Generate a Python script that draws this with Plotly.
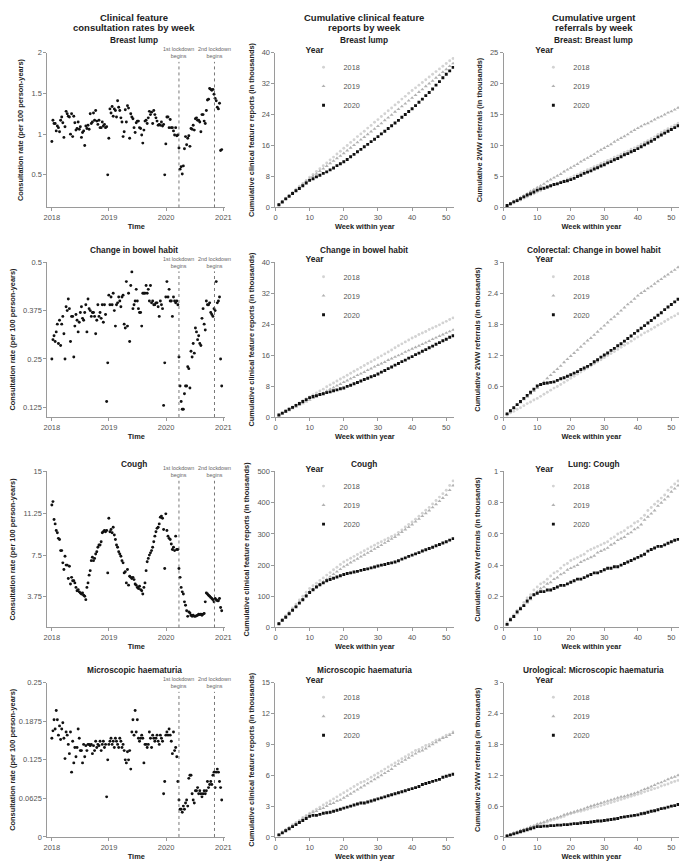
import plotly.graph_objects as go
import pandas as pd

# ---------------- DATA ----------------
# Column 1: weekly consultation rates (per 100 person-years), 2018-2020, 52 weeks per year
breast_rate_2018 = [0.91, 1.17, 1.13, 1.13, 1.04, 1.10, 1.08, 1.03, 1.17, 1.21,
                    1.14, 0.96, 1.09, 1.28, 1.25, 1.22, 1.21, 1.00, 1.25, 0.97,
                    1.22, 1.14, 1.05, 1.07, 1.15, 1.06, 1.09, 0.96, 1.02, 1.04,
                    0.86, 1.10, 1.07, 1.11, 1.06, 1.25, 1.13, 1.15, 1.26, 1.17,
                    1.29, 1.16, 1.12, 1.17, 1.08, 1.08, 1.15, 1.10, 1.12, 1.08,
                    1.09, 0.50]
breast_rate_2019 = [0.95, 1.31, 1.26, 1.34, 1.22, 1.31, 1.29, 1.21, 1.41, 1.33,
                    1.29, 1.20, 1.15, 0.97, 1.03, 1.30, 1.15, 1.35, 1.32, 0.95,
                    1.25, 1.21, 1.19, 1.08, 1.02, 1.14, 1.16, 1.16, 1.08, 1.07,
                    0.99, 0.89, 1.05, 1.16, 1.17, 1.13, 1.20, 1.28, 1.24, 1.27,
                    1.13, 1.29, 1.24, 1.20, 1.16, 1.11, 1.12, 1.11, 1.15, 1.10,
                    1.12, 0.50]
breast_rate_2020 = [0.88, 1.21, 1.21, 1.08, 1.18, 1.08, 1.08, 1.04, 0.99, 1.08,
                    0.98, 0.99, 0.83, 0.57, 0.60, 0.51, 0.61, 0.82, 0.97, 0.87,
                    0.95, 0.98, 0.85, 1.07, 1.06, 1.11, 1.05, 1.19, 1.20, 1.17,
                    1.17, 1.15, 1.03, 1.24, 1.24, 1.16, 1.13, 1.29, 1.42, 1.43,
                    1.56, 1.55, 1.54, 1.55, 1.49, 1.44, 1.41, 1.33, 1.31, 1.38,
                    0.80, 0.81]

bowel_rate_2018 = [0.25, 0.30, 0.31, 0.295, 0.32, 0.34, 0.29, 0.35, 0.285, 0.34,
                   0.36, 0.315, 0.25, 0.385, 0.375, 0.405, 0.38, 0.295, 0.36, 0.36,
                   0.255, 0.335, 0.365, 0.35, 0.32, 0.345, 0.37, 0.385, 0.355, 0.35,
                   0.37, 0.39, 0.32, 0.405, 0.38, 0.375, 0.36, 0.37, 0.37, 0.36,
                   0.315, 0.35, 0.39, 0.36, 0.37, 0.355, 0.39, 0.345, 0.39, 0.365,
                   0.14, 0.24]
bowel_rate_2019 = [0.415, 0.39, 0.41, 0.39, 0.42, 0.375, 0.335, 0.39, 0.395, 0.41,
                   0.40, 0.385, 0.41, 0.415, 0.34, 0.33, 0.45, 0.335, 0.42, 0.295,
                   0.44, 0.475, 0.38, 0.39, 0.40, 0.43, 0.40, 0.38, 0.37, 0.37,
                   0.335, 0.42, 0.42, 0.42, 0.44, 0.42, 0.43, 0.40, 0.44, 0.395,
                   0.40, 0.39, 0.39, 0.395, 0.395, 0.385, 0.36, 0.40, 0.39, 0.38,
                   0.13, 0.24]
bowel_rate_2020 = [0.41, 0.45, 0.41, 0.43, 0.40, 0.40, 0.36, 0.41, 0.40, 0.395,
                   0.40, 0.39, 0.255, 0.18, 0.14, 0.12, 0.12, 0.16, 0.18, 0.18,
                   0.23, 0.225, 0.175, 0.27, 0.255, 0.29, 0.265, 0.33, 0.32, 0.30,
                   0.31, 0.29, 0.285, 0.355, 0.38, 0.34, 0.325, 0.40, 0.39, 0.39,
                   0.395, 0.37, 0.365, 0.36, 0.38, 0.375, 0.45, 0.395, 0.40, 0.41,
                   0.25, 0.18]

cough_rate_2018 = [12.0, 12.3, 10.7, 10.3, 9.7, 9.5, 9.0, 8.9, 7.9, 7.9,
                   6.8, 6.2, 7.4, 6.6, 6.6, 5.4, 6.5, 4.9, 5.5, 5.2,
                   5.2, 5.0, 4.6, 4.3, 4.4, 4.2, 4.1, 4.0, 4.1, 3.9,
                   3.8, 3.5, 4.6, 5.0, 5.7, 6.1, 7.0, 7.3, 7.0, 7.2,
                   7.6, 7.8, 8.2, 8.4, 8.4, 8.7, 9.5, 9.6, 9.7, 9.6,
                   9.7, 5.9]
cough_rate_2019 = [10.8, 9.6, 9.8, 9.5, 10.0, 9.3, 8.9, 8.4, 8.2, 7.8,
                   7.6, 7.4, 7.0, 6.8, 5.9, 6.0, 5.0, 6.2, 4.8, 5.6,
                   5.5, 5.4, 5.5, 5.3, 4.9, 4.8, 4.6, 4.5, 4.7, 4.4,
                   4.3, 4.0, 4.6, 5.0, 6.1, 6.9, 7.2, 7.5, 7.7, 7.9,
                   8.2, 8.7, 9.2, 9.6, 9.9, 10.0, 10.3, 10.9, 11.0, 10.8,
                   9.8, 6.3]
cough_rate_2020 = [11.2, 9.7, 9.2, 9.0, 8.9, 8.5, 8.0, 8.2, 7.9, 9.2,
                   8.0, 8.0, 6.3, 5.5, 4.6, 4.2, 4.0, 3.3, 3.0, 2.5,
                   2.0, 2.4, 2.3, 2.1, 2.0, 2.1, 2.0, 2.0, 2.05, 2.1,
                   2.2, 2.15, 2.2, 2.1, 2.2, 2.25, 3.3, 4.1, 4.0, 3.9,
                   3.8, 3.7, 3.6, 3.5, 3.3, 3.6, 3.5, 3.4, 3.4, 3.6,
                   2.8, 2.5]

haem_rate_2018 = [0.16, 0.172, 0.19, 0.175, 0.205, 0.19, 0.165, 0.18, 0.158, 0.175,
                  0.185, 0.16, 0.127, 0.17, 0.165, 0.15, 0.135, 0.17, 0.105, 0.155,
                  0.12, 0.145, 0.13, 0.145, 0.175, 0.16, 0.14, 0.14, 0.12, 0.15,
                  0.13, 0.148, 0.14, 0.15, 0.15, 0.148, 0.15, 0.135, 0.148, 0.14,
                  0.155, 0.145, 0.15, 0.148, 0.155, 0.14, 0.15, 0.155, 0.145, 0.15,
                  0.065, 0.125]
haem_rate_2019 = [0.15, 0.155, 0.16, 0.15, 0.155, 0.145, 0.16, 0.155, 0.15, 0.145,
                  0.16, 0.155, 0.145, 0.15, 0.14, 0.125, 0.12, 0.138, 0.125, 0.14,
                  0.11, 0.17, 0.19, 0.165, 0.205, 0.17, 0.19, 0.16, 0.155, 0.16,
                  0.165, 0.16, 0.12, 0.15, 0.15, 0.145, 0.15, 0.17, 0.16, 0.145,
                  0.165, 0.16, 0.155, 0.16, 0.165, 0.155, 0.15, 0.165, 0.16, 0.155,
                  0.07, 0.09]
haem_rate_2020 = [0.165, 0.17, 0.165, 0.175, 0.165, 0.155, 0.135, 0.17, 0.14, 0.145,
                  0.13, 0.09, 0.06, 0.045, 0.045, 0.04, 0.05, 0.045, 0.055, 0.06,
                  0.05, 0.095, 0.1, 0.1, 0.07, 0.06, 0.055, 0.075, 0.075, 0.08,
                  0.07, 0.075, 0.07, 0.065, 0.07, 0.075, 0.07, 0.075, 0.09, 0.08,
                  0.085, 0.09, 0.085, 0.1, 0.105, 0.08, 0.105, 0.11, 0.105, 0.09,
                  0.08, 0.06]

# Column 2: cumulative clinical feature reports (thousands), weeks 1-52
breast_rep = {
    "2018": [0.8, 1.6, 2.4, 3.1, 3.9, 4.7, 5.5, 6.2, 7.0, 7.8,
             8.5, 9.3, 10.0, 10.8, 11.5, 12.3, 13.0, 13.8, 14.5, 15.3,
             16.0, 16.8, 17.5, 18.3, 19.0, 19.7, 20.5, 21.2, 22.0, 22.7,
             23.5, 24.2, 25.0, 25.7, 26.5, 27.2, 28.0, 28.7, 29.5, 30.2,
             30.9, 31.6, 32.3, 33.0, 33.7, 34.4, 35.1, 35.8, 36.5, 37.2, 37.9, 38.5],
    "2019": [0.7, 1.4, 2.2, 2.9, 3.7, 4.4, 5.2, 5.9, 6.7, 7.4,
             8.1, 8.7, 9.4, 10.0, 10.7, 11.4, 12.0, 12.7, 13.3, 14.0,
             14.7, 15.4, 16.1, 16.8, 17.5, 18.2, 18.9, 19.6, 20.3, 21.0,
             21.7, 22.5, 23.2, 23.9, 24.7, 25.4, 26.1, 26.8, 27.6, 28.3,
             29.0, 29.8, 30.5, 31.3, 32.0, 32.7, 33.5, 34.2, 35.0, 35.7, 36.5, 37.2],
    "2020": [0.7, 1.4, 2.2, 2.9, 3.6, 4.3, 4.9, 5.6, 6.3, 7.0,
             7.4, 7.9, 8.3, 8.8, 9.2, 9.7, 10.2, 10.8, 11.3, 11.8,
             12.4, 13.1, 13.7, 14.4, 15.0, 15.7, 16.3, 17.0, 17.6, 18.3,
             19.0, 19.7, 20.4, 21.1, 21.8, 22.5, 23.3, 24.0, 24.8, 25.5,
             26.3, 27.2, 28.0, 28.9, 29.7, 30.6, 31.6, 32.5, 33.5, 34.4, 35.3, 36.2],
}
bowel_rep = {
    "2018": [0.5, 1.0, 1.6, 2.1, 2.6, 3.1, 3.6, 4.2, 4.7, 5.2,
             5.7, 6.2, 6.7, 7.2, 7.8, 8.3, 8.8, 9.3, 9.8, 10.3,
             10.8, 11.3, 11.8, 12.3, 12.8, 13.3, 13.8, 14.3, 14.8, 15.3,
             15.8, 16.3, 16.8, 17.3, 17.9, 18.4, 18.9, 19.4, 19.9, 20.4,
             20.8, 21.3, 21.7, 22.1, 22.6, 23.0, 23.4, 23.8, 24.3, 24.7, 25.2, 25.6],
    "2019": [0.4, 0.8, 1.3, 1.7, 2.2, 2.6, 3.1, 3.5, 4.0, 4.4,
             4.9, 5.3, 5.8, 6.2, 6.7, 7.2, 7.6, 8.1, 8.5, 9.0,
             9.4, 9.9, 10.3, 10.8, 11.2, 11.6, 12.1, 12.5, 13.0, 13.4,
             13.8, 14.2, 14.7, 15.1, 15.5, 15.9, 16.3, 16.8, 17.2, 17.6,
             18.0, 18.4, 18.8, 19.2, 19.6, 20.1, 20.5, 20.9, 21.3, 21.7, 22.1, 22.5],
    "2020": [0.5, 1.0, 1.5, 2.0, 2.5, 3.0, 3.5, 4.0, 4.5, 5.0,
             5.3, 5.5, 5.8, 6.0, 6.3, 6.5, 6.8, 7.0, 7.3, 7.5,
             7.9, 8.2, 8.6, 8.9, 9.3, 9.7, 10.0, 10.4, 10.7, 11.1,
             11.6, 12.0, 12.5, 12.9, 13.4, 13.8, 14.3, 14.7, 15.2, 15.6,
             16.1, 16.5, 17.0, 17.4, 17.9, 18.3, 18.8, 19.2, 19.7, 20.1, 20.6, 21.0],
}
cough_rep = {
    "2018": [13, 25, 38, 50, 63, 75, 88, 100, 113, 125,
             134, 142, 151, 159, 168, 176, 185, 193, 202, 210,
             216, 222, 228, 234, 240, 246, 252, 258, 264, 270,
             275, 281, 286, 292, 297, 305, 313, 322, 330, 338,
             347, 357, 366, 376, 385, 396, 407, 418, 429, 440, 455, 470],
    "2019": [12, 23, 35, 46, 58, 69, 81, 92, 104, 115,
             123, 131, 139, 147, 155, 163, 171, 179, 187, 195,
             201, 208, 214, 220, 227, 233, 239, 245, 252, 258,
             264, 271, 277, 284, 290, 298, 306, 314, 322, 330,
             339, 348, 357, 366, 375, 385, 395, 405, 415, 425, 440, 455],
    "2020": [12, 23, 33, 44, 55, 66, 78, 89, 101, 112,
             121, 130, 137, 143, 150, 154, 158, 162, 166, 170,
             173, 175, 178, 180, 183, 186, 188, 191, 194, 197,
             200, 202, 205, 207, 210, 214, 219, 223, 228, 232,
             236, 240, 245, 249, 253, 257, 262, 266, 271, 275, 280, 285],
}
haem_rep = {
    "2018": [0.25, 0.5, 0.7, 0.9, 1.2, 1.4, 1.6, 1.9, 2.1, 2.3,
             2.5, 2.7, 2.9, 3.1, 3.3, 3.5, 3.7, 3.9, 4.1, 4.3,
             4.5, 4.7, 4.9, 5.1, 5.3, 5.4, 5.6, 5.8, 6.0, 6.2,
             6.4, 6.6, 6.8, 7.0, 7.2, 7.4, 7.6, 7.8, 8.0, 8.2,
             8.4, 8.5, 8.7, 8.9, 9.0, 9.2, 9.4, 9.5, 9.7, 9.9, 10.0, 10.2],
    "2019": [0.2, 0.4, 0.7, 0.9, 1.1, 1.3, 1.5, 1.8, 2.0, 2.2,
             2.4, 2.5, 2.7, 2.8, 3.0, 3.2, 3.3, 3.5, 3.6, 3.8,
             4.0, 4.2, 4.4, 4.6, 4.8, 5.0, 5.2, 5.4, 5.6, 5.8,
             6.0, 6.2, 6.4, 6.6, 6.9, 7.1, 7.3, 7.5, 7.7, 7.9,
             8.1, 8.3, 8.4, 8.6, 8.8, 9.0, 9.2, 9.4, 9.6, 9.7, 9.9, 10.1],
    "2020": [0.2, 0.4, 0.6, 0.8, 1.0, 1.2, 1.4, 1.6, 1.8, 2.0,
             2.1, 2.1, 2.2, 2.3, 2.35, 2.4, 2.5, 2.6, 2.7, 2.8,
             2.9, 3.0, 3.1, 3.2, 3.3, 3.3, 3.4, 3.5, 3.6, 3.7,
             3.8, 3.9, 4.0, 4.1, 4.2, 4.3, 4.4, 4.5, 4.6, 4.7,
             4.8, 4.9, 5.1, 5.2, 5.3, 5.4, 5.5, 5.6, 5.8, 5.9, 6.0, 6.1],
}

# Column 3: cumulative urgent (2WW) referrals (thousands), weeks 1-52
breast_ref = {
    "2018": [0.2, 0.5, 0.7, 1.0, 1.2, 1.5, 1.7, 2.0, 2.2, 2.5,
             2.7, 3.0, 3.2, 3.4, 3.7, 3.9, 4.1, 4.3, 4.6, 4.8,
             5.1, 5.3, 5.6, 5.8, 6.1, 6.3, 6.6, 6.8, 7.1, 7.3,
             7.6, 7.8, 8.1, 8.3, 8.6, 8.9, 9.1, 9.4, 9.6, 9.9,
             10.2, 10.5, 10.8, 11.1, 11.4, 11.8, 12.1, 12.4, 12.7, 13.0, 13.3, 13.6],
    "2019": [0.3, 0.6, 1.0, 1.3, 1.6, 1.9, 2.2, 2.6, 2.9, 3.2,
             3.5, 3.8, 4.2, 4.5, 4.8, 5.1, 5.4, 5.8, 6.1, 6.4,
             6.7, 7.0, 7.4, 7.7, 8.0, 8.3, 8.6, 9.0, 9.3, 9.6,
             9.9, 10.2, 10.6, 10.9, 11.2, 11.5, 11.8, 12.2, 12.5, 12.8,
             13.1, 13.4, 13.6, 13.9, 14.2, 14.5, 14.7, 15.0, 15.3, 15.5, 15.8, 16.1],
    "2020": [0.3, 0.6, 0.9, 1.1, 1.4, 1.7, 2.0, 2.2, 2.5, 2.8,
             3.0, 3.1, 3.3, 3.5, 3.7, 3.8, 4.0, 4.2, 4.3, 4.5,
             4.7, 5.0, 5.2, 5.5, 5.7, 5.9, 6.2, 6.4, 6.7, 6.9,
             7.2, 7.4, 7.7, 7.9, 8.2, 8.5, 8.7, 9.0, 9.2, 9.5,
             9.8, 10.1, 10.4, 10.7, 11.0, 11.4, 11.7, 12.0, 12.3, 12.6, 12.9, 13.2],
}
bowel_ref = {
    "2018": [0.04, 0.08, 0.11, 0.15, 0.18, 0.22, 0.26, 0.29, 0.33, 0.36,
             0.40, 0.44, 0.48, 0.52, 0.56, 0.59, 0.63, 0.67, 0.71, 0.75,
             0.79, 0.83, 0.87, 0.91, 0.95, 0.99, 1.03, 1.07, 1.11, 1.15,
             1.19, 1.23, 1.27, 1.31, 1.35, 1.39, 1.43, 1.47, 1.51, 1.55,
             1.59, 1.63, 1.66, 1.70, 1.74, 1.78, 1.81, 1.85, 1.89, 1.93, 1.96, 2.00],
    "2019": [0.06, 0.11, 0.17, 0.23, 0.28, 0.34, 0.39, 0.45, 0.50, 0.56,
             0.62, 0.68, 0.75, 0.81, 0.87, 0.93, 0.99, 1.06, 1.12, 1.18,
             1.24, 1.30, 1.36, 1.42, 1.48, 1.53, 1.59, 1.65, 1.71, 1.77,
             1.83, 1.89, 1.94, 2.00, 2.06, 2.12, 2.18, 2.23, 2.29, 2.35,
             2.40, 2.44, 2.49, 2.53, 2.58, 2.63, 2.67, 2.72, 2.76, 2.81, 2.85, 2.90],
    "2020": [0.06, 0.12, 0.18, 0.24, 0.30, 0.36, 0.42, 0.48, 0.54, 0.60,
             0.63, 0.65, 0.66, 0.67, 0.68, 0.71, 0.74, 0.76, 0.79, 0.82,
             0.85, 0.88, 0.92, 0.95, 0.98, 1.02, 1.07, 1.11, 1.16, 1.20,
             1.24, 1.29, 1.33, 1.38, 1.42, 1.47, 1.52, 1.57, 1.62, 1.67,
             1.72, 1.77, 1.82, 1.87, 1.92, 1.97, 2.02, 2.08, 2.13, 2.18, 2.23, 2.28],
}
cough_ref = {
    "2018": [0.03, 0.06, 0.08, 0.11, 0.13, 0.16, 0.19, 0.21, 0.24, 0.26,
             0.28, 0.29, 0.31, 0.33, 0.35, 0.36, 0.38, 0.40, 0.41, 0.43,
             0.44, 0.45, 0.46, 0.47, 0.49, 0.50, 0.51, 0.52, 0.53, 0.54,
             0.55, 0.57, 0.58, 0.60, 0.61, 0.62, 0.64, 0.65, 0.67, 0.68,
             0.70, 0.72, 0.75, 0.77, 0.79, 0.81, 0.83, 0.85, 0.88, 0.90, 0.92, 0.94],
    "2019": [0.02, 0.05, 0.07, 0.09, 0.12, 0.14, 0.16, 0.18, 0.21, 0.23,
             0.25, 0.26, 0.28, 0.29, 0.31, 0.32, 0.34, 0.35, 0.37, 0.38,
             0.39, 0.40, 0.42, 0.43, 0.44, 0.45, 0.46, 0.48, 0.49, 0.50,
             0.51, 0.53, 0.54, 0.56, 0.57, 0.58, 0.60, 0.61, 0.63, 0.64,
             0.66, 0.69, 0.71, 0.73, 0.75, 0.78, 0.80, 0.82, 0.84, 0.87, 0.89, 0.91],
    "2020": [0.02, 0.05, 0.07, 0.10, 0.12, 0.14, 0.17, 0.19, 0.21, 0.22,
             0.23, 0.23, 0.24, 0.24, 0.25, 0.26, 0.27, 0.27, 0.28, 0.29,
             0.30, 0.31, 0.31, 0.32, 0.33, 0.34, 0.35, 0.35, 0.36, 0.37,
             0.38, 0.38, 0.39, 0.39, 0.40, 0.41, 0.42, 0.43, 0.44, 0.45,
             0.46, 0.47, 0.49, 0.50, 0.51, 0.52, 0.52, 0.53, 0.54, 0.55, 0.56, 0.565],
}
haem_ref = {
    "2018": [0.02, 0.04, 0.07, 0.09, 0.11, 0.13, 0.16, 0.18, 0.20, 0.23,
             0.25, 0.27, 0.29, 0.32, 0.34, 0.36, 0.38, 0.40, 0.43, 0.45,
             0.47, 0.49, 0.50, 0.52, 0.54, 0.56, 0.58, 0.59, 0.61, 0.63,
             0.65, 0.67, 0.69, 0.71, 0.73, 0.75, 0.77, 0.79, 0.81, 0.83,
             0.85, 0.88, 0.90, 0.92, 0.94, 0.96, 0.99, 1.01, 1.03, 1.06, 1.08, 1.10],
    "2019": [0.03, 0.05, 0.08, 0.10, 0.13, 0.15, 0.17, 0.20, 0.22, 0.25,
             0.27, 0.29, 0.32, 0.34, 0.36, 0.38, 0.40, 0.43, 0.45, 0.47,
             0.49, 0.51, 0.53, 0.55, 0.58, 0.60, 0.62, 0.64, 0.66, 0.68,
             0.70, 0.72, 0.74, 0.76, 0.78, 0.79, 0.81, 0.83, 0.85, 0.87,
             0.90, 0.93, 0.95, 0.98, 1.01, 1.04, 1.06, 1.09, 1.12, 1.15, 1.17, 1.20],
    "2020": [0.02, 0.04, 0.06, 0.08, 0.10, 0.12, 0.14, 0.16, 0.18, 0.20,
             0.20, 0.21, 0.21, 0.22, 0.22, 0.23, 0.23, 0.24, 0.24, 0.25,
             0.26, 0.26, 0.27, 0.28, 0.28, 0.29, 0.30, 0.31, 0.31, 0.32,
             0.33, 0.34, 0.35, 0.36, 0.38, 0.39, 0.40, 0.41, 0.42, 0.43,
             0.45, 0.46, 0.48, 0.50, 0.51, 0.53, 0.55, 0.56, 0.58, 0.60, 0.61, 0.63],
}

years = ["2018", "2019", "2020"]
week_numbers = list(range(1, 53))
week_dates = pd.date_range("2018-01-01", periods=156, freq="7D")
lockdown_dates = ["2020-03-23", "2020-11-05"]
lockdown_labels = ["1st lockdown<br>begins", "2nd lockdown<br>begins"]

col_headers = [["Clinical feature", "consultation rates by week"],
               ["Cumulative clinical feature", "reports by week"],
               ["Cumulative urgent", "referrals by week"]]
titles_c1 = ["Breast lump", "Change in bowel habit", "Cough", "Microscopic haematuria"]
titles_c3 = ["Breast: Breast lump", "Colorectal: Change in bowel habit",
             "Lung: Cough", "Urological: Microscopic haematuria"]

rates = [breast_rate_2018 + breast_rate_2019 + breast_rate_2020,
         bowel_rate_2018 + bowel_rate_2019 + bowel_rate_2020,
         cough_rate_2018 + cough_rate_2019 + cough_rate_2020,
         haem_rate_2018 + haem_rate_2019 + haem_rate_2020]
reports = [breast_rep, bowel_rep, cough_rep, haem_rep]
referrals = [breast_ref, bowel_ref, cough_ref, haem_ref]

rate_ticks = [([0.5, 1, 1.5, 2], ["0.5", "1", "1.5", "2"], [0.1, 2.002]),
              ([0.125, 0.25, 0.375, 0.5], ["0.125", "0.25", "0.375", "0.5"], [0.1, 0.5005]),
              ([3.75, 7.5, 11.25, 15], ["3.75", "7.5", "11.25", "15"], [1.0, 15.01]),
              ([0, 0.0625, 0.125, 0.1875, 0.25], ["0", "0.0625", "0.125", "0.1875", "0.25"], [0, 0.2502])]
rep_ticks = [(8, [0, 40.02]), (8, [0, 40.02]), (100, [0, 500.3]), (3, [0, 15.01])]
ref_ticks = [(5, [0, 25.02]), (0.6, [0, 3.002]), (0.2, [0, 1.001]), (0.6, [0, 3.002])]

year_style = {"2018": dict(symbol="circle", color="#d3d3d3", size=2.9),
              "2019": dict(symbol="triangle-up", color="#b2b2b2", size=3.5),
              "2020": dict(symbol="square", color="#111111", size=2.9)}

# ---------------- LAYOUT GEOMETRY ----------------
# positions below are in page pixels; the page body adds an 8px offset
OFF = 8
W, H = 688 - OFF, 866 - OFF
row_px = [(49, 205.5), (260.7, 417.3), (472.3, 630), (685.7, 841.7)]
col_px = [(39, 221), (272.3, 455), (505.7, 685)]
row_title_px = [36.5, 249, 465, 673]
col_center_px = [128, 363, 598]
header_px = [14, 24]
legend_left_px = [None, 301, 536]
FONT = "Liberation Sans, Arial, Helvetica, sans-serif"


def fx(p):
    return (p - OFF) / W


def fy(p):
    return 1 - (p - OFF) / H


fig = go.Figure()
layout = dict(width=W, height=H, margin=dict(l=0, r=0, t=0, b=0),
              paper_bgcolor="white", plot_bgcolor="white",
              font=dict(family=FONT, color="#222"), showlegend=True)
annotations = []
shapes = []

axis_common = dict(showline=True, linecolor="#9a9a9a", linewidth=1, ticks="outside",
                   ticklen=3, tickcolor="#9a9a9a", tickfont=dict(size=7.5, color="#555"),
                   showgrid=False, zeroline=False)
title_font = dict(size=7.4, color="#222", family=FONT)


def ydom(r):
    t, b = row_px[r]
    return [fy(b), fy(t)]


def xdom(c):
    l, rr = col_px[c]
    return [fx(l), fx(rr)]


legend_idx = 0
for r in range(4):
    for c in range(3):
        k = r * 3 + c + 1
        xa = "xaxis" if k == 1 else f"xaxis{k}"
        ya = "yaxis" if k == 1 else f"yaxis{k}"
        xr = "x" if k == 1 else f"x{k}"
        yr = "y" if k == 1 else f"y{k}"
        if c == 0:
            fig.add_trace(go.Scatter(x=week_dates, y=rates[r], mode="markers",
                                     marker=dict(size=2.9, color="#111"),
                                     showlegend=False, xaxis=xr, yaxis=yr))
            tv, tt, yrange = rate_ticks[r]
            layout[xa] = dict(axis_common, domain=xdom(c), anchor=yr, type="date",
                              range=["2017-12-03", "2021-01-13"],
                              tickvals=["2018-01-01", "2019-01-01", "2020-01-01", "2021-01-01"],
                              ticktext=["2018", "2019", "2020", "2021"],
                              title=dict(text="<b>Time</b>", font=title_font, standoff=2))
            layout[ya] = dict(axis_common, domain=ydom(r), anchor=xr, range=yrange,
                              tickvals=tv, ticktext=tt,
                              title=dict(text="<b>Consultation rate (per 100 person-years)</b>",
                                         font=title_font, standoff=6))
            for d, lab in zip(lockdown_dates, lockdown_labels):
                shapes.append(dict(type="line", xref=xr, yref=f"{yr} domain",
                                   x0=d, x1=d, y0=0, y1=0.94,
                                   line=dict(color="#555", width=0.8, dash="dot")))
                annotations.append(dict(text=lab, x=d, xref=xr, xanchor="center",
                                        y=1.0, yref=f"{yr} domain",
                                        yanchor="middle", showarrow=False,
                                        font=dict(size=5.4, color="#666", family=FONT)))
            ttl = titles_c1[r]
        else:
            legend_idx += 1
            lname = "legend" if legend_idx == 1 else f"legend{legend_idx}"
            data = reports[r] if c == 1 else referrals[r]
            for yv in years:
                st = year_style[yv]
                fig.add_trace(go.Scatter(x=week_numbers, y=data[yv], mode="markers", name=yv,
                                         marker=dict(symbol=st["symbol"], color=st["color"],
                                                     size=st["size"]),
                                         legend=lname, xaxis=xr, yaxis=yr))
            dt, yrange = rep_ticks[r] if c == 1 else ref_ticks[r]
            ytitle = ("<b>Cumulative clinical feature reports (in thousands)</b>" if c == 1
                      else "<b>Cumulative 2WW referrals (in thousands)</b>")
            layout[xa] = dict(axis_common, domain=xdom(c), anchor=yr, range=[0, 52.3],
                              tickvals=[0, 10, 20, 30, 40, 50],
                              title=dict(text="<b>Week within year</b>", font=title_font, standoff=2))
            layout[ya] = dict(axis_common, domain=ydom(r), anchor=xr, range=yrange,
                              tick0=0, dtick=dt,
                              title=dict(text=ytitle, font=title_font, standoff=6))
            layout[lname] = dict(x=fx(legend_left_px[c]), y=fy(row_px[r][0] - 11),
                                 xanchor="left", yanchor="top",
                                 bgcolor="rgba(0,0,0,0)",
                                 title=dict(text="<b>Year</b>", font=dict(size=8.5, color="#222")),
                                 font=dict(size=7.3, color="#555", family=FONT),
                                 tracegroupgap=0)
            ttl = titles_c1[r] if c == 1 else titles_c3[r]
        annotations.append(dict(text=f"<b>{ttl}</b>", x=fx(col_center_px[c]), xref="paper",
                                xanchor="center", y=fy(row_title_px[r]), yref="paper",
                                yanchor="middle", showarrow=False,
                                font=dict(size=8.3, color="#222", family=FONT)))

for c in range(3):
    for i, line in enumerate(col_headers[c]):
        annotations.append(dict(text=f"<b>{line}</b>", x=fx(col_center_px[c]), xref="paper",
                                xanchor="center", y=fy(header_px[i]), yref="paper",
                                yanchor="middle", showarrow=False,
                                font=dict(size=9.5, color="#222", family=FONT)))

layout["annotations"] = annotations
layout["shapes"] = shapes
fig.update_layout(**layout)
fig.write_html("out.html")
